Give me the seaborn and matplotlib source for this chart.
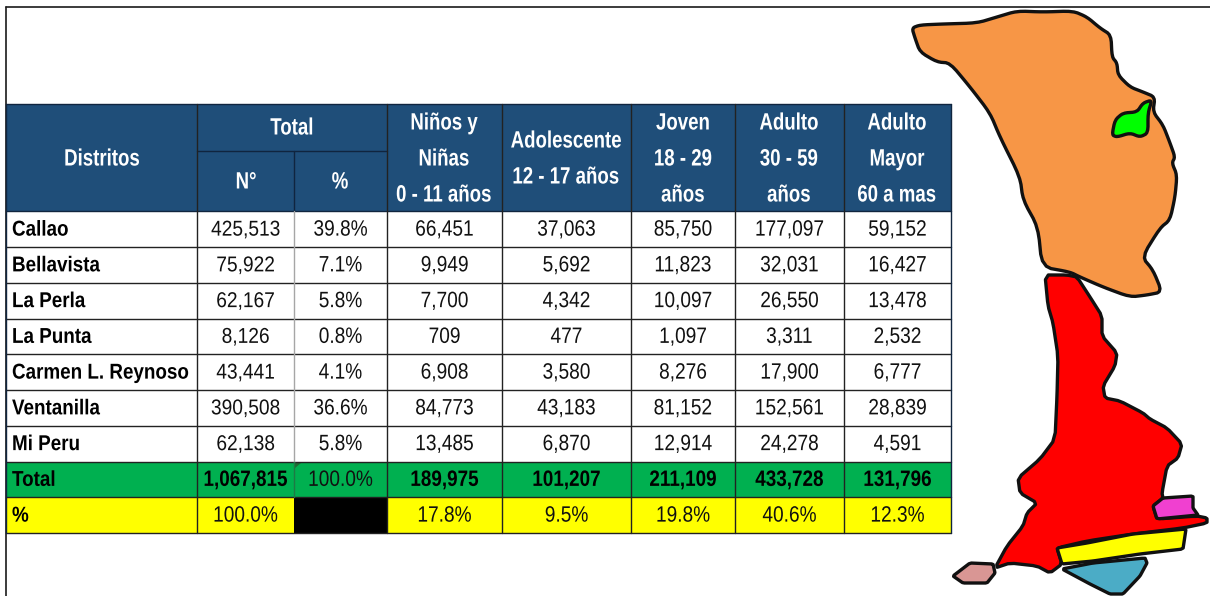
import matplotlib
matplotlib.use("Agg")
import matplotlib.pyplot as plt
from matplotlib.colors import ListedColormap
from matplotlib.patches import Polygon
from matplotlib.patheffects import AbstractPathEffect
from matplotlib.transforms import Affine2D
import numpy as np
import seaborn as sns

# Table data
distritos = ["Callao", "Bellavista", "La Perla", "La Punta", "Carmen L. Reynoso", "Ventanilla", "Mi Peru"]
total_n = [425513, 75922, 62167, 8126, 43441, 390508, 62138]
total_pct = [39.8, 7.1, 5.8, 0.8, 4.1, 36.6, 5.8]
ninos = [66451, 9949, 7700, 709, 6908, 84773, 13485]
adolescente = [37063, 5692, 4342, 477, 3580, 43183, 6870]
joven = [85750, 11823, 10097, 1097, 8276, 81152, 12914]
adulto = [177097, 32031, 26550, 3311, 17900, 152561, 24278]
mayor = [59152, 16427, 13478, 2532, 6777, 28839, 4591]

fila_total = [1067815, 189975, 101207, 211109, 433728, 131796]
fila_pct = [100.0, 17.8, 9.5, 19.8, 40.6, 12.3]

# Map outlines, in image pixels
callao_norte = [(912, 28), (920, 25), (943, 24), (977, 23), (997, 17), (1017, 11), (1043, 12), (1073, 11),
                (1087, 17), (1100, 28), (1111, 35), (1112, 57), (1117, 63), (1118, 75), (1130, 87), (1143, 92),
                (1155, 97), (1153, 112), (1163, 125), (1170, 143), (1175, 157), (1172, 163), (1177, 175),
                (1175, 197), (1170, 220), (1160, 228), (1142, 257), (1153, 270), (1162, 292), (1147, 295),
                (1130, 297), (1103, 287), (1080, 277), (1070, 272), (1042, 267), (1038, 227), (1023, 200),
                (1020, 177), (1000, 137), (990, 113), (970, 87), (950, 63), (937, 62), (920, 52), (915, 38)]
la_punta_verde = [(1112, 135), (1115, 120), (1123, 113), (1137, 112), (1143, 103), (1152, 100), (1148, 113),
                  (1148, 133), (1140, 137), (1130, 133), (1117, 137)]
ventanilla = [(1045, 275), (1067, 275), (1077, 277), (1090, 297), (1102, 316), (1102, 336), (1117, 353),
              (1115, 366), (1103, 386), (1105, 398), (1120, 401), (1143, 413), (1150, 419), (1167, 428),
              (1182, 444), (1178, 458), (1167, 466), (1162, 493), (1163, 498), (1153, 506), (1157, 519),
              (1197, 516), (1207, 518), (1207, 523), (1183, 528), (1133, 534), (1087, 541), (1057, 548),
              (1062, 564), (1050, 573), (1037, 566), (1010, 563), (995, 568), (1007, 546), (1023, 526),
              (1027, 513), (1037, 503), (1020, 493), (1018, 478), (1040, 459), (1055, 439), (1057, 396),
              (1058, 356), (1053, 323), (1048, 306)]
magenta = [(1153, 506), (1163, 498), (1193, 496), (1193, 508), (1198, 515), (1157, 519)]
amarillo = [(1057, 548), (1087, 543), (1133, 534), (1186, 529), (1183, 549), (1140, 554), (1093, 561), (1062, 564)]
celeste = [(1062, 569), (1093, 563), (1145, 558), (1147, 563), (1140, 576), (1123, 594), (1110, 594), (1090, 584)]
rosado = [(953, 576), (970, 563), (993, 564), (995, 573), (987, 583), (963, 583)]


def suavizar(pts, corte=0.2, veces=1):
    # corner cutting so the outlines look hand drawn and not straight
    p = np.array(pts, dtype=float)
    for _ in range(veces):
        q = np.roll(p, -1, axis=0)
        p = np.column_stack([(1 - corte) * p + corte * q, corte * p + (1 - corte) * q]).reshape(-1, 2)
    return p


class Estrecho(AbstractPathEffect):
    # squeezes the glyphs sideways, no Arial Narrow on this machine
    def __init__(self, sx, centro=True):
        super().__init__()
        self.sx = sx
        self.centro = centro

    def draw_path(self, renderer, gc, tpath, affine, rgbFace=None):
        c = 0
        if self.centro:
            ext = tpath.get_extents()
            c = (ext.x0 + ext.x1) / 2
        t = Affine2D().translate(-c, 0).scale(self.sx, 1).translate(c, 0) + affine
        renderer.draw_path(gc, tpath, t, rgbFace)


sns.set_theme(style="white")
plt.rcParams['font.family'] = ['Liberation Sans', 'DejaVu Sans']

W, H = 1210, 596
col_edges = [6, 197, 294, 387, 502, 631, 735, 844, 951]
top, bottom = 104, 533
n_rows = 12
row_h = (bottom - top) / n_rows

# Cell colours: 0 white, 1 blue, 2 green, 3 yellow, 4 black
cells = np.zeros((n_rows, 8), dtype=int)
cells[:3, :] = 1
cells[10, :] = 2
cells[11, :] = 3
cells[11, 2] = 4
cmap = ListedColormap(["white", "#1F4E79", "#00B050", "#FFFF00", "black"])

fig = plt.figure(figsize=(W / 100, H / 100), dpi=100)
ax_tab = fig.add_axes([col_edges[0] / W, 1 - bottom / H, (col_edges[-1] - col_edges[0]) / W, (bottom - top) / H])
grid = np.repeat(cells, np.diff(col_edges), axis=1)
sns.heatmap(grid, ax=ax_tab, cmap=cmap, vmin=-0.5, vmax=4.5, cbar=False, xticklabels=False, yticklabels=False)

# Overlay in image pixels for the text, lines and map
ax = fig.add_axes([0, 0, 1, 1])
ax.set_xlim(0, W)
ax.set_ylim(H, 0)
ax.axis("off")
ax.patch.set_alpha(0)

ax.plot([6, 6], [7, H], color="#1A1A1A", lw=1.2)
ax.plot([6, W], [7, 7], color="#1A1A1A", lw=1.2)

body_top = top + 3 * row_h
for i in range(n_rows + 1):
    y = top + i * row_h
    if i in (1, 2):
        continue
    ax.plot([6, 951], [y, y], color="#10253F" if i in (0, 3) else "#222222", lw=1.0)
ax.plot([197, 387], [151, 151], color="#10253F", lw=1.0)

for x in col_edges:
    if x == 294:
        continue
    ax.plot([x, x], [top, bottom], color="#10253F" if x in (6, 951) else "#222222", lw=1.0)
ax.plot([294, 294], [151, body_top], color="#10253F", lw=1.0)
ax.plot([294, 294], [body_top, top + 10 * row_h], color="#A6A6A6", lw=1.0)
ax.plot([294, 294], [top + 10 * row_h, top + 11 * row_h], color="#1E7A45", lw=1.0)
ax.add_patch(Polygon([(295, 463), (301, 463), (295, 468)], closed=True, color="#1E6B33", lw=0))


def cabecera(x, y, t):
    ax.text(x, y + 1, t, color="white", weight="bold", ha="center", va="center", fontsize=17,
            path_effects=[Estrecho(0.79)])


def valor(x, y, t, negrita=False):
    if negrita:
        ax.text(x, y, t, color="black", weight="bold", ha="center", va="center", fontsize=16,
                path_effects=[Estrecho(0.85)])
    else:
        ax.text(x, y, t, color="#111111", ha="center", va="center", fontsize=16,
                path_effects=[Estrecho(0.86)])


def etiqueta(y, t):
    ax.text(12, y, t, color="black", weight="bold", ha="left", va="center", fontsize=15.5,
            path_effects=[Estrecho(0.875, centro=False)])


cabecera(102, 158, "Distritos")
cabecera(292, 127, "Total")
cabecera(246, 181, "N°")
cabecera(340, 181, "%")
for y, t in zip([122, 158, 194], ["Niños y", "Niñas", "0 - 11 años"]):
    cabecera(444, y, t)
for y, t in zip([140, 176], ["Adolescente", "12 - 17 años"]):
    cabecera(566, y, t)
for y, t in zip([122, 158, 194], ["Joven", "18 - 29", "años"]):
    cabecera(683, y, t)
for y, t in zip([122, 158, 194], ["Adulto", "30 - 59", "años"]):
    cabecera(789, y, t)
for y, t in zip([122, 158, 194], ["Adulto", "Mayor", "60 a mas"]):
    cabecera(897, y, t)

centers = [(a + b) / 2 for a, b in zip(col_edges[:-1], col_edges[1:])]
for i, d in enumerate(distritos):
    y = body_top + (i + 0.5) * row_h + 1
    etiqueta(y, d)
    fila = [f"{total_n[i]:,}", f"{total_pct[i]:.1f}%", f"{ninos[i]:,}", f"{adolescente[i]:,}",
            f"{joven[i]:,}", f"{adulto[i]:,}", f"{mayor[i]:,}"]
    for j, (cx, t) in enumerate(zip(centers[1:], fila)):
        # first column a bit smaller so its box stays clear of the long district name
        if j == 0:
            ax.text(cx, y, t, color="#111111", ha="center", va="center", fontsize=15.5,
                    path_effects=[Estrecho(0.89)])
        else:
            valor(cx, y, t)

y_total = top + 10.5 * row_h + 1
y_pct = top + 11.5 * row_h + 1
etiqueta(y_total, "Total")
etiqueta(y_pct, "%")
valor(centers[2], y_total, "100.0%")
for cx, v, p in zip([centers[1]] + centers[3:], fila_total, fila_pct):
    valor(cx, y_total, f"{v:,}", negrita=True)
    valor(cx, y_pct, f"{p:.1f}%")

# Map
capas = [(callao_norte, "#F79646", 0.2, 2), (ventanilla, "#FF0000", 0.15, 1), (la_punta_verde, "#00FF00", 0.2, 2),
         (magenta, "#F040D0", 0.06, 1), (amarillo, "#FFFF00", 0.05, 1), (celeste, "#4BACC6", 0.06, 1),
         (rosado, "#D99694", 0.06, 1)]
for pts, c, corte, n in capas:
    ax.add_patch(Polygon(suavizar(pts, corte, n), closed=True, facecolor=c, edgecolor="#111111", lw=2.4,
                         joinstyle="round"))

fig.savefig("out.png", dpi=100)
